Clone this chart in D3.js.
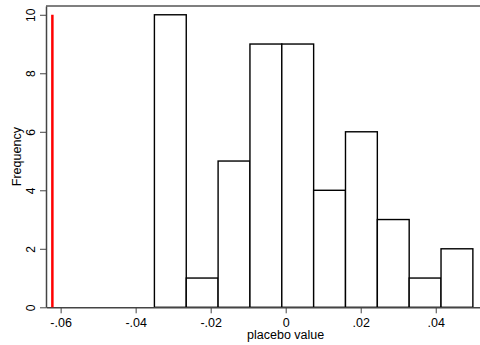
<!DOCTYPE html>
<html>
<head>
<meta charset="utf-8">
<script src="https://cdn.jsdelivr.net/npm/d3@7"></script>
<style>
  body { margin: 0; background: #fff; }
  svg { display: block; font-family: "Liberation Sans", Arial, sans-serif; }
  .axis text { font-size: 12.5px; fill: #000; }
  .axis path, .axis line { stroke: #444; }
</style>
</head>
<body>
<div id="chart"></div>
<script>
// histogram of placebo estimates
const binStart = -0.035;
const binWidth = 0.00849;
const counts = [10, 1, 5, 9, 9, 4, 6, 3, 1, 2];
const actualValue = -0.0622;
const xTicks = [-0.06, -0.04, -0.02, 0, 0.02, 0.04];
const yTicks = [0, 2, 4, 6, 8, 10];

const width = 480;
const height = 345;
const plot = {left: 46, right: 480, top: 6, bottom: 307.3};

const svg = d3.select('#chart')
  .append('svg')
  .attr('width', width)
  .attr('height', height);

const xScale = d3.scaleLinear()
  .domain([-0.0639, 0.0518])
  .range([plot.left, plot.right]);
const yScale = d3.scaleLinear()
  .domain([0, 10.3])
  .range([plot.bottom, plot.top]);

// Stata style: no leading zero, plain hyphen for minus
const fmt = d => d === 0 ? '0' : (d < 0 ? '-' : '') + Math.abs(d).toFixed(2).replace(/^0/, '');

// top frame line
svg.append('line')
  .attr('x1', plot.left).attr('x2', plot.right)
  .attr('y1', plot.top).attr('y2', plot.top)
  .style('stroke', '#555')
  .style('stroke-width', 1.5);

// bars
const bins = counts.map((c, i) => ({x0: binStart + i * binWidth, x1: binStart + (i + 1) * binWidth, n: c}));
svg.append('g')
  .selectAll('rect')
  .data(bins)
  .enter().append('rect')
  .attr('x', d => xScale(d.x0))
  .attr('y', d => yScale(d.n))
  .attr('width', d => xScale(d.x1) - xScale(d.x0))
  .attr('height', d => yScale(0) - yScale(d.n))
  .style('fill', '#fff')
  .style('stroke', '#000')
  .style('stroke-width', 1.4);

// x axis
svg.append('g')
  .attr('class', 'axis')
  .attr('transform', `translate(0,${plot.bottom})`)
  .call(d3.axisBottom(xScale).tickValues(xTicks).tickFormat(fmt).tickSize(6).tickSizeOuter(0))
  .call(g => g.select('.domain').style('stroke-width', 1.5))
  .call(g => g.selectAll('text').attr('dy', '0.88em'));

// y axis, labels turned sideways
svg.append('g')
  .attr('class', 'axis')
  .attr('transform', `translate(${plot.left},0)`)
  .call(d3.axisLeft(yScale).tickValues(yTicks).tickSize(6).tickSizeOuter(0))
  .call(g => g.select('.domain').style('stroke-width', 1.5))
  .call(g => g.selectAll('.tick text')
    .attr('x', 0)
    .attr('y', 0)
    .attr('dy', 0)
    .attr('text-anchor', 'middle')
    .style('font-size', '12px')
    .attr('transform', 'translate(-11,0) rotate(-90)'));

// actual estimate
svg.append('line')
  .attr('x1', xScale(actualValue)).attr('x2', xScale(actualValue))
  .attr('y1', yScale(10)).attr('y2', yScale(0))
  .style('stroke', '#ff0000')
  .style('stroke-width', 2.5);

// labels
svg.append('text')
  .attr('x', xScale(0))
  .attr('y', 338.5)
  .attr('text-anchor', 'middle')
  .style('font-size', '12.5px')
  .text('placebo value');
svg.append('text')
  .attr('transform', `translate(21,${(plot.top + plot.bottom) / 2}) rotate(-90)`)
  .attr('text-anchor', 'middle')
  .style('font-size', '12.5px')
  .text('Frequency');
</script>
</body>
</html>
